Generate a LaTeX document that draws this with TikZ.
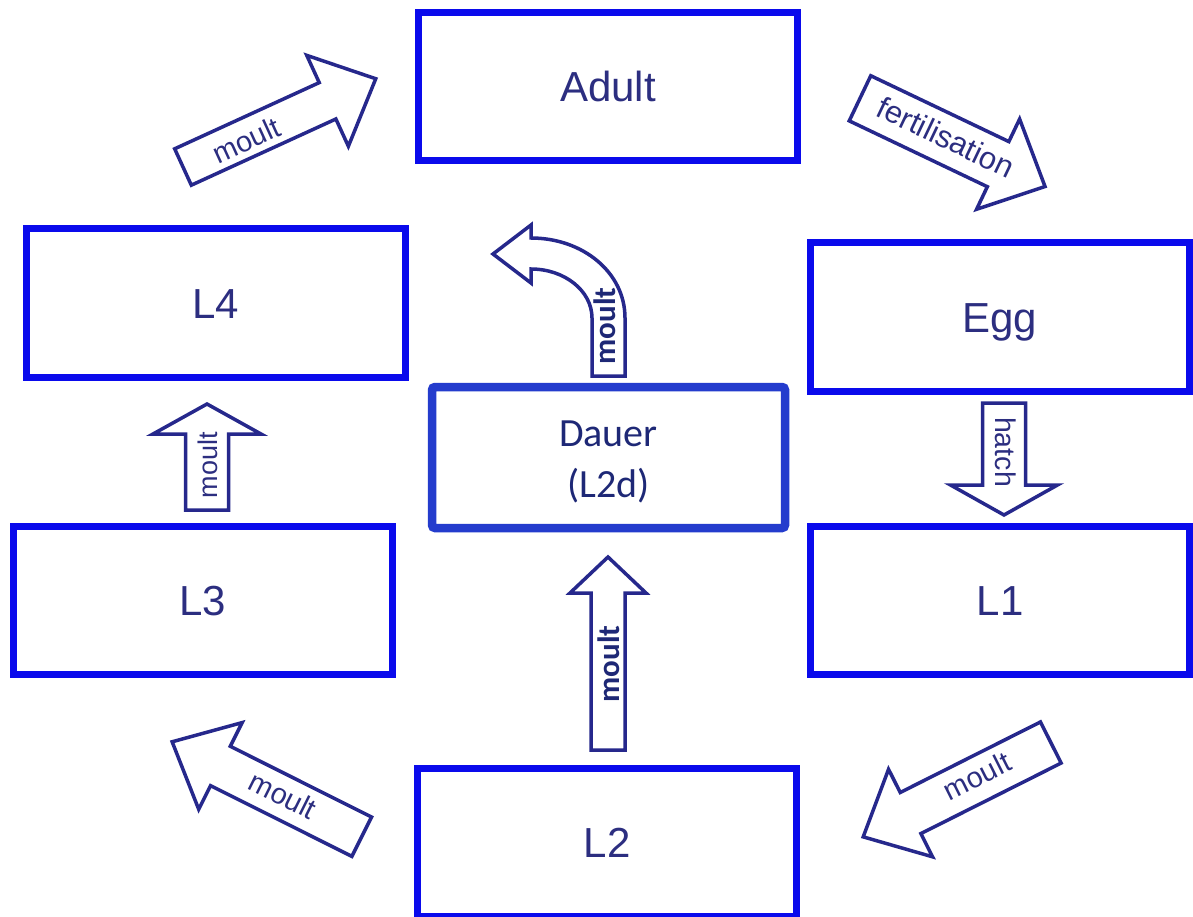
\documentclass[tikz,border=0pt]{standalone}
\usepackage{fontspec}
\setmainfont{Liberation Sans}
\newfontfamily\calibri{Carlito}
\definecolor{boxblue}{RGB}{10,10,236}
\definecolor{dauerblue}{RGB}{36,60,205}
\definecolor{arrownavy}{RGB}{38,40,140}
\definecolor{labelnavy}{RGB}{44,46,128}
\definecolor{dauernavy}{RGB}{30,40,118}
\tikzset{
  pics/blockarrow/.style n args={4}{code={
    % #1 total length, #2 shaft width, #3 head width, #4 head length
    \draw[arrowline] (0,{#2/2}) -- ({#1-#4},{#2/2}) -- ({#1-#4},{#3/2}) -- (#1,0)
      -- ({#1-#4},{-#3/2}) -- ({#1-#4},{-#2/2}) -- (0,{-#2/2}) -- cycle;
  }}
}
\begin{document}
\begin{tikzpicture}[x=1pt,y=-1pt,
  stage/.style={draw=boxblue, line width=7pt, fill=white, minimum width=379pt,
    minimum height=148pt, inner sep=0pt, text=labelnavy,
    font=\fontsize{42}{48}\selectfont, text height=30pt, text depth=0pt},
  dauerbox/.style={draw=dauerblue, line width=8.5pt, rounded corners=3pt, fill=white,
    minimum width=353pt, minimum height=141pt, inner sep=0pt},
  dauerlabel/.style={text=dauernavy, align=center, inner sep=0pt,
    font=\calibri\fontsize{40}{51}\selectfont},
  arrowline/.style={draw=arrownavy, line width=3.5pt, fill=white, line join=miter},
  steplabel/.style={text=labelnavy, inner sep=0pt, font=\fontsize{29}{34}\selectfont},
  dauerstep/.style={text=dauernavy, inner sep=0pt, font=\calibri\bfseries\fontsize{31}{36}\selectfont}
]
\fill[white] (0,0) rectangle (1193,917);
\useasboundingbox (0,0) rectangle (1193,917);

% life-cycle stages
\node[stage] (adult) at (608,86.5) {Adult};
\node[stage] (L4) at (216,303) {L4};
\node[stage] (egg) at (999.5,317) {Egg};
\node[stage] (L3) at (203,600.5) {L3};
\node[stage] (L1) at (1000,600.5) {L1};
\node[stage] (L2) at (607,842) {L2};
\node[dauerbox] (dauer) at (608.5,457.5) {};
\node[dauerlabel] (dauertext) at (608.5,462) {Dauer\\(L2d)};

% block arrows between the stages
\pic[rotate=24.6] at (183,167) {blockarrow={212}{40}{100}{53}};
\node[steplabel, rotate=24.6] (m1) at (246,140) {moult};

\pic[rotate=-25.5] at (860,98.3) {blockarrow={205}{50}{100}{52}};
\node[steplabel, rotate=-25.5, font=\fontsize{31}{36}\selectfont] (fert) at (946,137) {fertilisation};

\pic[rotate=153.4] at (361.7,836.7) {blockarrow={212}{44}{97}{54}};
\node[steplabel, rotate=-26.6] (m3) at (283,795) {moult};

\pic[rotate=206.7] at (1050.8,742.5) {blockarrow={210}{46}{98}{53}};
\node[steplabel, rotate=26.7] (m2) at (977,776) {moult};

\pic[rotate=90] at (207,510) {blockarrow={106}{43}{108}{30}};
\node[steplabel, rotate=90, font=\fontsize{27}{32}\selectfont] (m4) at (207.5,465) {moult};

\pic[rotate=-90] at (1004,403) {blockarrow={112}{43}{107}{30}};
\node[steplabel, rotate=-90, font=\fontsize{28.5}{32}\selectfont] (hatch) at (1006,452) {hatch};

% L2 into the dauer stage
\pic[rotate=90] at (608,750) {blockarrow={193}{34}{76}{36}};
\node[dauerstep, rotate=90] (m5) at (609,664) {moult};

% bent arrow leaving the dauer stage
\draw[arrowline] (625,376) -- (625,318)
  .. controls (625,272.5) and (582.9,238) .. (531,238)
  -- (531,225) -- (493,254) -- (531,283) -- (531,269)
  .. controls (564.7,269) and (592,291) .. (592,318)
  -- (592,376) -- cycle;
\node[dauerstep, rotate=90] (m6) at (605,326) {moult};
\end{tikzpicture}
\end{document}
